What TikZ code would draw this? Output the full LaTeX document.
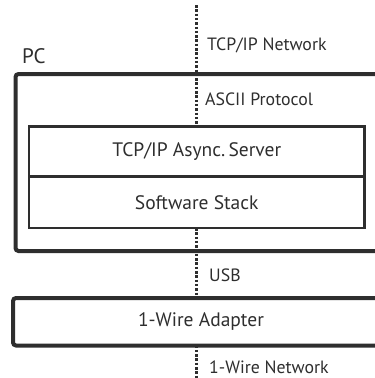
\documentclass[tikz,border=0pt]{standalone}
\usepackage{fontspec}
\setmainfont{PT Sans}
\usetikzlibrary{positioning}
\definecolor{ink}{HTML}{2E2E2E}

\begin{document}
\begin{tikzpicture}[x=1pt,y=-1pt,
    thickbox/.style={draw=ink, line width=4pt, rounded corners=3pt, inner sep=0pt, outer sep=0pt},
    layerbox/.style={draw=ink, line width=2.2pt, minimum width=335.5pt, inner sep=0pt, outer sep=0pt,
      text=ink, font=\fontsize{19.5}{22}\selectfont},
    link/.style={draw=ink, line width=3pt, dash pattern=on 2.5pt off 1.8pt},
    tag/.style={anchor=base west, inner sep=0pt, text=ink, font=\fontsize{17.8}{20}\selectfont}]
  \useasboundingbox (0,0) rectangle (375,378);
  \clip (0,0) rectangle (375,378);
  % PC with its two layers
  \node[thickbox, minimum width=390pt, minimum height=177pt, anchor=north west] (pc) at (15.5,74) {};
  \node[tag, font=\fontsize{21}{23}\selectfont] (pcname) at (22,63.3) {PC};
  \node[layerbox, minimum height=50pt, anchor=north] (server) at (196.75,126.5) {TCP/IP Async.\,Server};
  \node[layerbox, minimum height=51.5pt, anchor=north] (stack) at (server.south) {Software Stack};
  % adapter
  \node[thickbox, minimum width=400pt, minimum height=47.5pt, anchor=north west] (adapter) at (13,298) {};
  \node[text=ink, font=\fontsize{19.5}{22}\selectfont] (adaptername) at (201,322) {1-Wire Adapter};
  % links
  \coordinate (nettop) at (196.5,5);
  \coordinate (netbottom) at (196.5,378);
  \draw[link] (nettop) -- (nettop |- server.north);
  \draw[link] (nettop |- stack.south) -- (nettop |- adapter.north);
  \draw[link] (nettop |- adapter.south) -- (netbottom);
  \node[tag] (tcpnet) at (207,50) {TCP/IP Network};
  \node[tag] (ascii) at (205,105.5) {ASCII Protocol};
  \node[tag] (usb) at (209,281.5) {USB};
  \node[tag] (wirenet) at (209,373) {1-Wire Network};
\end{tikzpicture}
\end{document}
